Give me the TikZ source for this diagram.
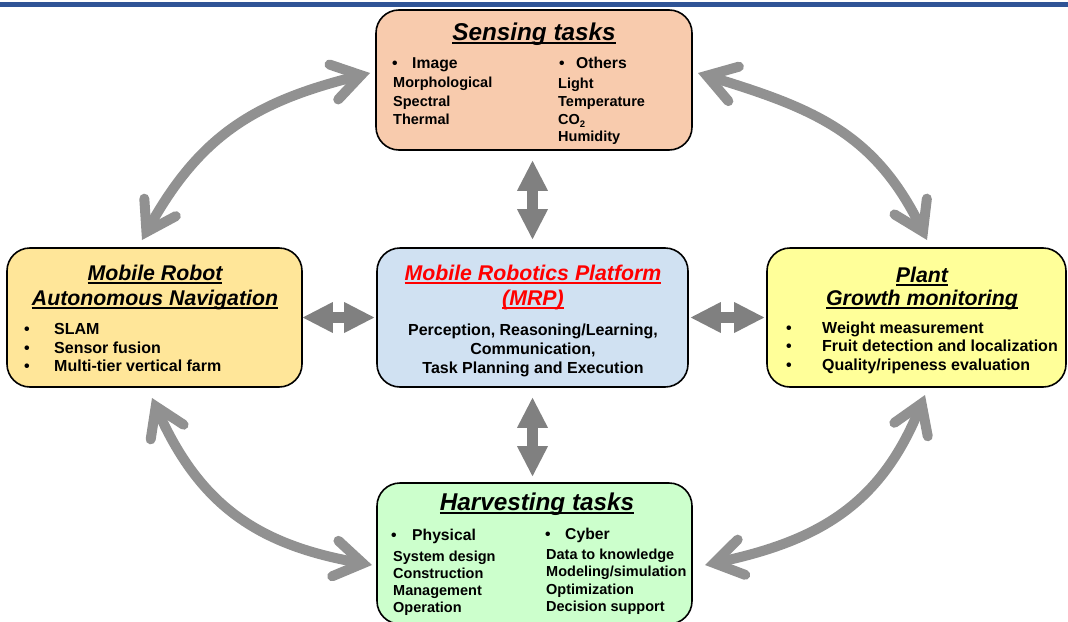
\documentclass[tikz,border=0pt]{standalone}
\usepackage{fontspec}
\setmainfont{Liberation Sans}
\usetikzlibrary{arrows.meta,calc}
\definecolor{bandblue}{RGB}{47,84,150}
\definecolor{sensefill}{RGB}{248,203,173}
\definecolor{mobfill}{RGB}{255,230,153}
\definecolor{plantfill}{RGB}{255,255,153}
\definecolor{mrpfill}{RGB}{208,225,242}
\definecolor{harvfill}{RGB}{204,255,204}
\definecolor{curvegray}{RGB}{145,145,145}
\definecolor{blockgray}{RGB}{128,128,128}
\definecolor{mrpred}{RGB}{255,0,0}
\newcommand\myul[1]{\setbox0\hbox{#1}\rlap{\rule[-3.6pt]{\wd0}{1.8pt}}\box0}
\newcommand\subtwo{\raisebox{-3pt}{\fontsize{9.5}{10}\selectfont 2}}
\tikzset{
  mybarb/.tip={Straight Barb[length=28pt,width=36pt,line cap=round,line join=miter]},
  myblock/.tip={Triangle[length=30pt,width=31pt,line width=0pt]},
  box/.style={draw=black, line width=1.6pt, rounded corners=23pt, inner sep=0pt},
  bigtitle/.style={anchor=base, inner sep=0pt, font=\fontsize{24.3}{29}\selectfont\bfseries\itshape},
  midtitle/.style={anchor=base, inner sep=0pt, font=\fontsize{21.3}{26}\selectfont\bfseries\itshape},
  head/.style={anchor=base west, inner sep=0pt, font=\fontsize{15.7}{19}\selectfont\bfseries},
  item/.style={anchor=base west, inner sep=0pt, font=\fontsize{14.5}{17}\selectfont\bfseries},
  sideitem/.style={anchor=base west, inner sep=0pt, font=\fontsize{16}{19}\selectfont\bfseries},
  centeritem/.style={anchor=base, inner sep=0pt, font=\fontsize{16}{19}\selectfont\bfseries},
  curvarr/.style={draw=curvegray, line width=10pt, mybarb-mybarb},
  blockarr/.style={draw=blockgray, line width=11pt, myblock-myblock},
}
\begin{document}
\begin{tikzpicture}[x=1pt,y=1pt]
\useasboundingbox (0,0) rectangle (1068,-621);
\clip (0,0) rectangle (1068,-621);
\fill[bandblue] (0,-2) rectangle (1068,-7);

% boxes
\node[box, fill=sensefill, minimum width=316pt, minimum height=140pt] (sense) at (534,-80) {};
\node[box, fill=mobfill, minimum width=295pt, minimum height=139pt] (mob) at (154.5,-317.5) {};
\node[box, fill=mrpfill, minimum width=311pt, minimum height=139pt] (mrp) at (532.5,-317.5) {};
\node[box, fill=plantfill, minimum width=299pt, minimum height=139pt] (plant) at (916.5,-317.5) {};
\node[box, fill=harvfill, minimum width=315pt, minimum height=141pt] (harv) at (534.5,-553.5) {};

% sensing texts
\node[bigtitle] (senseT) at (534,-40) {\myul{Sensing tasks}};
\node[head] (sb1) at (392,-68) {•};
\node[head] (sh1) at (412,-68) {Image};
\node[item] (s1) at (393,-87.5) {Morphological};
\node[item] (s2) at (393,-106) {Spectral};
\node[item] (s3) at (393,-124) {Thermal};
\node[head] (sb2) at (559,-68) {•};
\node[head] (sh2) at (576,-68) {Others};
\node[item] (s4) at (558,-88.5) {Light};
\node[item] (s5) at (558,-106.5) {Temperature};
\node[item] (s6) at (558,-124.3) {CO\subtwo};
\node[item] (s7) at (558,-141.7) {Humidity};

% mobile robot texts
\node[midtitle] (mobT1) at (155,-280) {\myul{Mobile Robot}};
\node[midtitle] (mobT2) at (155,-305) {\myul{Autonomous Navigation}};
\node[sideitem] (mb1) at (24,-334.5) {•};
\node[sideitem] (mb2) at (24,-353) {•};
\node[sideitem] (mb3) at (24,-371.5) {•};
\node[sideitem] (m1) at (54,-334.5) {SLAM};
\node[sideitem] (m2) at (54,-353) {Sensor fusion};
\node[sideitem] (m3) at (54,-371.5) {Multi-tier vertical farm};

% MRP texts
\node[midtitle, text=mrpred] (mrpT1) at (533,-280.5) {\myul{Mobile Robotics Platform}};
\node[midtitle, text=mrpred] (mrpT2) at (533,-305.5) {\myul{(MRP)}};
\node[centeritem] (c1) at (533,-335.5) {Perception, Reasoning/Learning,};
\node[centeritem] (c2) at (533,-354) {Communication,};
\node[centeritem] (c3) at (533,-373) {Task Planning and Execution};

% plant texts
\node[midtitle] (plT1) at (922,-282) {\myul{Plant}};
\node[midtitle] (plT2) at (922,-305) {\myul{Growth monitoring}};
\node[sideitem] (pb1) at (786,-333) {•};
\node[sideitem] (pb2) at (786,-351.5) {•};
\node[sideitem] (pb3) at (786,-370) {•};
\node[sideitem] (p1) at (822,-333) {Weight measurement};
\node[sideitem] (p2) at (822,-351.5) {Fruit detection and localization};
\node[sideitem] (p3) at (822,-370) {Quality/ripeness evaluation};

% harvesting texts
\node[bigtitle] (harvT) at (537,-510) {\myul{Harvesting tasks}};
\node[head] (hb1) at (391,-540) {•};
\node[head] (hh1) at (412,-540) {Physical};
\node[item] (h1) at (393,-561.5) {System design};
\node[item] (h2) at (393,-578.3) {Construction};
\node[item] (h3) at (393,-595.7) {Management};
\node[item] (h4) at (393,-612.7) {Operation};
\node[head] (hb2) at (545,-539) {•};
\node[head] (hh2) at (565,-539) {Cyber};
\node[item] (h5) at (546,-559.3) {Data to knowledge};
\node[item] (h6) at (546,-576.7) {Modeling/simulation};
\node[item] (h7) at (546,-594.3) {Optimization};
\node[item] (h8) at (546,-611.7) {Decision support};

% block arrows
\draw[blockarr, shorten <=10pt, shorten >=8pt] (mrp.north |- sense.south) -- (mrp.north);
\draw[blockarr, shorten <=10pt, shorten >=6pt] (mrp.south) -- (mrp.south |- harv.north);
\draw[blockarr, shorten >=2pt] (mob.east) -- (mrp.west);
\draw[blockarr, shorten <=2pt, shorten >=2pt] (mrp.east) -- (plant.west);

% curved arrows
\coordinate (tlA) at (142,-240);
\coordinate (tlB) at (370,-73);
\coordinate (trA) at (698,-73);
\coordinate (trB) at (927,-240);
\coordinate (blA) at (152,-398);
\coordinate (blB) at (372,-565);
\coordinate (brA) at (925,-395);
\coordinate (brB) at (705,-565);
\draw[curvarr] (tlA) to[out=61, in=194, looseness=1.08] (tlB);
\draw[curvarr] (trA) to[out=-17, in=116, looseness=1.08] (trB);
\draw[curvarr] (blA) to[out=-66, in=170, looseness=1.08] (blB);
\draw[curvarr] (brA) to[out=248, in=12, looseness=1.08] (brB);
\end{tikzpicture}
\end{document}
